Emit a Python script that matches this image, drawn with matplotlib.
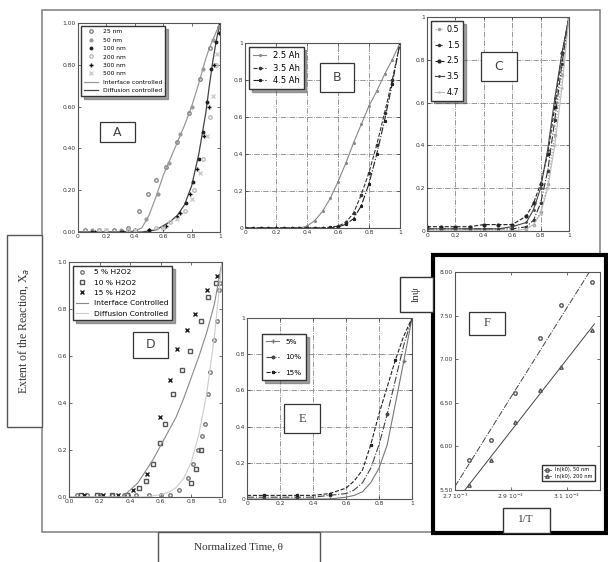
import numpy as np
import matplotlib
matplotlib.use("Agg")
import matplotlib.pyplot as plt
from matplotlib.patches import Rectangle

W, H = 608, 562

# ---- panel A : particle size ----
A_line_x = [0, 0.1, 0.2, 0.3, 0.4, 0.45, 0.5, 0.55, 0.6, 0.65, 0.7, 0.75, 0.8, 0.85, 0.9, 0.925, 0.95, 0.975, 1.0]
A_interface = [0, 0, 0, 0, 0.005, 0.02, 0.08, 0.17, 0.27, 0.35, 0.43, 0.51, 0.60, 0.71, 0.83, 0.88, 0.92, 0.96, 1.0]
A_diffusion = [0, 0, 0, 0, 0, 0, 0.005, 0.01, 0.03, 0.05, 0.08, 0.13, 0.22, 0.37, 0.57, 0.70, 0.82, 0.92, 1.0]
A_series = {
    "25 nm": ([0.05, 0.15, 0.25, 0.35, 0.43, 0.49, 0.55, 0.62, 0.7, 0.78, 0.86, 0.93, 0.99],
              [0.01, 0.01, 0.01, 0.02, 0.10, 0.18, 0.25, 0.31, 0.43, 0.57, 0.73, 0.88, 0.98]),
    "50 nm": ([0.1, 0.2, 0.3, 0.4, 0.48, 0.56, 0.64, 0.72, 0.8, 0.88, 0.95, 1.0],
              [0.01, 0.01, 0.01, 0.01, 0.06, 0.18, 0.33, 0.47, 0.60, 0.78, 0.92, 0.99]),
    "100 nm": ([0.1, 0.2, 0.3, 0.4, 0.5, 0.6, 0.7, 0.76, 0.81, 0.85, 0.88, 0.91, 0.94, 0.97, 1.0],
               [0, 0, 0, 0.01, 0.01, 0.02, 0.07, 0.14, 0.24, 0.35, 0.48, 0.62, 0.78, 0.91, 1.0]),
    "200 nm": ([0.15, 0.35, 0.55, 0.65, 0.75, 0.82, 0.88, 0.93, 0.97],
               [0.01, 0.01, 0.02, 0.05, 0.10, 0.20, 0.35, 0.55, 0.80]),
    "300 nm": ([0.12, 0.32, 0.5, 0.62, 0.72, 0.79, 0.84, 0.89, 0.92, 0.96, 0.99],
               [0, 0, 0.01, 0.03, 0.09, 0.18, 0.30, 0.46, 0.60, 0.80, 0.95]),
    "500 nm": ([0.2, 0.4, 0.6, 0.7, 0.8, 0.86, 0.91, 0.95, 0.98],
               [0.01, 0.01, 0.02, 0.06, 0.16, 0.28, 0.46, 0.65, 0.85]),
}

# ---- panel B : Ah ----
B_x = [0, 0.05, 0.1, 0.15, 0.2, 0.25, 0.3, 0.35, 0.4, 0.45, 0.5, 0.55, 0.6, 0.65, 0.7, 0.75, 0.8, 0.85, 0.9, 0.95, 1.0]
B_25 = [0, 0, 0, 0, 0, 0, 0, 0, 0.01, 0.04, 0.09, 0.16, 0.25, 0.35, 0.46, 0.56, 0.66, 0.74, 0.83, 0.91, 1.0]
B_35 = [0, 0, 0, 0, 0, 0, 0, 0, 0, 0, 0, 0.005, 0.01, 0.03, 0.08, 0.18, 0.30, 0.45, 0.62, 0.80, 1.0]
B_45 = [0, 0, 0, 0, 0, 0, 0, 0, 0, 0, 0, 0, 0.005, 0.02, 0.05, 0.12, 0.24, 0.40, 0.58, 0.78, 1.0]

# ---- panel C ----
C_x = [0, 0.1, 0.2, 0.3, 0.4, 0.5, 0.6, 0.7, 0.75, 0.8, 0.85, 0.9, 0.95, 1.0]
C_series = {
    "0.5": [0, 0, 0, 0, 0, 0, 0, 0.01, 0.03, 0.09, 0.22, 0.45, 0.73, 1.0],
    "1.5": [0.01, 0.01, 0.01, 0.01, 0.01, 0.01, 0.01, 0.02, 0.05, 0.13, 0.28, 0.52, 0.78, 1.0],
    "2.5": [0.02, 0.02, 0.02, 0.02, 0.03, 0.03, 0.03, 0.07, 0.13, 0.22, 0.36, 0.58, 0.83, 1.0],
    "3.5": [0.01, 0.01, 0.01, 0.01, 0.01, 0.01, 0.02, 0.04, 0.10, 0.20, 0.38, 0.62, 0.83, 1.0],
    "4.7": [0, 0, 0, 0, 0, 0, 0, 0.01, 0.03, 0.08, 0.20, 0.40, 0.67, 1.0],
}

# ---- panel D : H2O2 ----
D_line_x = [0, 0.1, 0.2, 0.3, 0.35, 0.4, 0.45, 0.5, 0.55, 0.6, 0.65, 0.7, 0.75, 0.8, 0.85, 0.9, 0.95, 1.0]
D_interface = [0, 0, 0, 0, 0, 0.03, 0.06, 0.11, 0.16, 0.22, 0.28, 0.34, 0.42, 0.51, 0.60, 0.70, 0.82, 1.0]
D_diffusion = [0, 0, 0, 0, 0, 0, 0, 0, 0.005, 0.01, 0.02, 0.04, 0.08, 0.15, 0.27, 0.44, 0.68, 1.0]
D_5_x = [0.05, 0.12, 0.2, 0.28, 0.36, 0.44, 0.52, 0.6, 0.66, 0.72, 0.78, 0.81, 0.84, 0.87, 0.89, 0.91, 0.92, 0.945, 0.97, 0.98, 0.99]
D_5_y = [0.01, 0.01, 0.01, 0.01, 0.01, 0.01, 0.01, 0.01, 0.01, 0.03, 0.08, 0.14, 0.20, 0.26, 0.31, 0.44, 0.53, 0.67, 0.75, 0.88, 0.91]
D_10_x = [0.08, 0.18, 0.28, 0.38, 0.46, 0.5, 0.55, 0.595, 0.63, 0.68, 0.74, 0.79, 0.86, 0.91, 0.96, 0.8, 0.83, 0.86]
D_10_y = [0.01, 0.01, 0.01, 0.01, 0.04, 0.07, 0.14, 0.23, 0.31, 0.44, 0.54, 0.62, 0.75, 0.85, 0.91, 0.06, 0.12, 0.20]
D_15_x = [0.1, 0.22, 0.32, 0.42, 0.51, 0.595, 0.66, 0.705, 0.77, 0.825, 0.9, 0.97]
D_15_y = [0.01, 0.01, 0.01, 0.03, 0.10, 0.34, 0.50, 0.63, 0.71, 0.78, 0.88, 0.94]

# ---- panel E ----
E_x = [0, 0.1, 0.2, 0.3, 0.4, 0.5, 0.6, 0.65, 0.7, 0.75, 0.8, 0.85, 0.9, 0.95, 1.0]
E_5 = [0, 0, 0, 0, 0, 0, 0.01, 0.02, 0.04, 0.09, 0.17, 0.30, 0.53, 0.76, 1.0]
E_10 = [0.01, 0.01, 0.01, 0.01, 0.01, 0.02, 0.03, 0.05, 0.09, 0.17, 0.30, 0.47, 0.66, 0.85, 1.0]
E_15 = [0.02, 0.02, 0.02, 0.02, 0.02, 0.03, 0.06, 0.10, 0.16, 0.30, 0.47, 0.62, 0.77, 0.90, 1.0]

# ---- panel F : Arrhenius ----
F_x = [2.752, 2.829, 2.916, 3.006, 3.079, 3.19]
F_50 = [5.84, 6.07, 6.61, 7.24, 7.62, 7.89]
F_200 = [5.56, 5.84, 6.28, 6.65, 6.91, 7.33]

TICK = 4.3


def rect(l, t, r, b):
    return [l / W, 1 - b / H, (r - l) / W, (b - t) / H]


def style(ax, grid=False):
    ax.tick_params(labelsize=TICK, length=2, width=0.5, direction="in", pad=1.5,
                   colors="#333333", top=True, right=True)
    for s in ax.spines.values():
        s.set_linewidth(0.8)
        s.set_color("#555555")
    if grid:
        ax.grid(True, color="#888888", linestyle="-.", linewidth=0.6)


fig = plt.figure(figsize=(W / 100, H / 100), dpi=100)

# background frame
bg = fig.add_axes([0, 0, 1, 1], zorder=0)
bg.set_xlim(0, W)
bg.set_ylim(H, 0)
bg.axis("off")
bg.add_patch(Rectangle((42, 10), 558, 522, fill=False, edgecolor="#888888", lw=1.2))
bg.add_patch(Rectangle((7, 235), 35, 192, facecolor="white", edgecolor="#555555", lw=1))
bg.text(24, 331, "Extent of the Reaction, X$_a$", rotation=90, ha="center", va="center",
        fontsize=8.5, family="Liberation Serif", color="#333333")
bg.add_patch(Rectangle((158, 532), 162, 32, facecolor="white", edgecolor="#555555", lw=1))
bg.text(239, 547, "Normalized Time, θ", ha="center", va="center",
        fontsize=8, family="Liberation Serif", color="#333333")
bg.add_patch(Rectangle((433, 255), 173, 278, facecolor="white", edgecolor="black", lw=3))
bg.add_patch(Rectangle((400, 277), 33, 35, facecolor="white", edgecolor="#333333", lw=1))
bg.text(416, 294, "lnψ", rotation=90, ha="center", va="center",
        fontsize=8, family="Liberation Serif", color="#333333")
bg.add_patch(Rectangle((503, 508), 47, 25, facecolor="white", edgecolor="#333333", lw=1))
bg.text(526, 520, "1/T", ha="center", va="center",
        fontsize=8, family="Liberation Serif", color="#333333")

ticks = [0, 0.2, 0.4, 0.6, 0.8, 1.0]
lab_short = ["0", "0.2", "0.4", "0.6", "0.8", "1"]

# A
axA = fig.add_axes(rect(78, 23, 220, 232), zorder=2)
axA.plot(A_line_x, A_interface, color="#999999", lw=0.9, label="Interface controlled")
axA.plot(A_line_x, A_diffusion, color="#444444", lw=0.9, label="Diffusion controlled")
mstyle = {"25 nm": dict(marker="o", mfc="none", mec="#888888", ms=2.5),
          "50 nm": dict(marker="o", mfc="#999999", mec="#999999", ms=2),
          "100 nm": dict(marker="o", mfc="#222222", mec="#222222", ms=1.8),
          "200 nm": dict(marker="o", mfc="none", mec="#bbbbbb", ms=2.5),
          "300 nm": dict(marker="+", mec="#111111", ms=3),
          "500 nm": dict(marker="x", mec="#cccccc", ms=2.5)}
for name, (xs, ys) in A_series.items():
    axA.plot(xs, ys, linestyle="none", label=name, **mstyle[name])
lh = axA.get_legend_handles_labels()
hl = dict(zip(lh[1], lh[0]))
order = list(A_series.keys()) + ["Interface controlled", "Diffusion controlled"]
axA.legend([hl[k] for k in order], order, loc="upper left", bbox_to_anchor=(0.0, 1.0),
           fontsize=4.3, frameon=True, fancybox=False, edgecolor="#333333", framealpha=1,
           labelspacing=0.55, handlelength=2.4, borderpad=0.5, shadow=True)
axA.set_xlim(0, 1)
axA.set_ylim(0, 1)
axA.set_xticks(ticks, lab_short)
axA.set_yticks(ticks, ["0.00", "0.20", "0.40", "0.60", "0.80", "1.00"])
style(axA)

# B
axB = fig.add_axes(rect(245, 43, 400, 228), zorder=2)
axB.plot(B_x, B_25, color="#888888", lw=0.8, marker="o", ms=1.2, label="2.5 Ah")
axB.plot(B_x, B_35, color="#333333", lw=0.8, ls="--", marker="o", ms=1.6, label="3.5 Ah")
axB.plot(B_x, B_45, color="#222222", lw=0.8, ls="-.", marker="*", ms=2, label="4.5 Ah")
axB.legend(loc="upper left", bbox_to_anchor=(0.0, 1.0), fontsize=6, fancybox=False,
           edgecolor="#333333", framealpha=1, handlelength=1.6, labelspacing=0.45,
           borderpad=0.45, shadow=True)
axB.set_xlim(0, 1)
axB.set_ylim(0, 1)
axB.set_xticks(ticks, lab_short)
axB.set_yticks(ticks, lab_short)
style(axB, grid=True)

# C
axC = fig.add_axes(rect(427, 17, 569, 231), zorder=2)
cst = {"0.5": dict(color="#999999", ls=":", marker="o", ms=1.5),
       "1.5": dict(color="#333333", ls="-.", marker="o", ms=1.5),
       "2.5": dict(color="#222222", ls="--", marker="o", ms=2),
       "3.5": dict(color="#444444", ls="-", marker=".", ms=2),
       "4.7": dict(color="#bbbbbb", ls="-", marker=".", ms=1.5)}
for name, ys in C_series.items():
    axC.plot(C_x, ys, lw=0.8, label=name, **cst[name])
axC.legend(loc="upper left", bbox_to_anchor=(0.0, 1.0), fontsize=5.8, fancybox=False,
           edgecolor="#333333", framealpha=1, handlelength=1.2, labelspacing=0.85,
           borderpad=0.45, handletextpad=0.3, shadow=True)
axC.set_xlim(0, 1)
axC.set_ylim(0, 1)
axC.set_xticks(ticks, lab_short)
axC.set_yticks(ticks, lab_short)
style(axC, grid=True)

# D
axD = fig.add_axes(rect(69, 262, 222, 497), zorder=2)
axD.plot(D_5_x, D_5_y, linestyle="none", marker="o", mfc="none", mec="#777777", ms=2.5, label="5 % H2O2")
axD.plot(D_10_x, D_10_y, linestyle="none", marker="s", mfc="none", mec="#555555", ms=2.3, label="10 % H2O2")
axD.plot(D_15_x, D_15_y, linestyle="none", marker="x", mec="#222222", ms=2.5, label="15 % H2O2")
axD.plot(D_line_x, D_interface, color="#888888", lw=0.8, label="Interface Controlled")
axD.plot(D_line_x, D_diffusion, color="#cccccc", lw=0.8, label="Diffusion Controlled")
axD.legend(loc="upper left", bbox_to_anchor=(0.0, 1.0), fontsize=5.4, fancybox=False,
           edgecolor="#333333", framealpha=1, handlelength=1.6, labelspacing=0.55,
           borderpad=0.45, shadow=True)
axD.set_xlim(0, 1)
axD.set_ylim(0, 1)
axD.set_xticks(ticks, ["0.0", "0.2", "0.4", "0.6", "0.8", "1.0"])
axD.set_yticks(ticks, ["0.0", "0.2", "0.4", "0.6", "0.8", "1.0"])
style(axD)

# E
axE = fig.add_axes(rect(247, 318, 412, 499), zorder=2)
axE.plot(E_x, E_5, color="#777777", lw=0.8, marker="+", ms=2.5, markevery=[1, 3, 5, 13], label="5%")
axE.plot(E_x, E_10, color="#444444", lw=0.8, ls="-.", marker="o", ms=1.8, markevery=[1, 3, 5, 11], label="10%")
axE.plot(E_x, E_15, color="#222222", lw=0.8, ls="--", marker="*", ms=2.2, markevery=[1, 3, 5, 9, 12], label="15%")
axE.legend(loc="upper left", bbox_to_anchor=(0.07, 0.93), fontsize=5.2, fancybox=False,
           edgecolor="#333333", framealpha=1, handlelength=1.8, labelspacing=1.3, borderpad=0.6,
           shadow=True)
axE.set_xlim(0, 1)
axE.set_ylim(0, 1)
axE.set_xticks(ticks, lab_short)
axE.set_yticks(ticks, lab_short)
style(axE, grid=True)

# F
axF = fig.add_axes(rect(455, 272, 600, 490), zorder=2)
xx = np.array([2.7, 3.2])
p1 = np.polyfit(F_x, F_50, 1)
p2 = np.polyfit(F_x, F_200, 1)
axF.plot(xx, np.polyval(p1, xx), color="#444444", lw=0.7, ls="-.")
axF.plot(xx, np.polyval(p2, xx), color="#444444", lw=0.7)
axF.plot(F_x, F_50, color="#555555", linestyle="none", marker="o", mfc="none", mec="#555555",
         ms=2.5, label="ln(k0), 50 nm")
axF.plot(F_x, F_200, color="#555555", linestyle="none", marker="^", mfc="none", mec="#555555",
         ms=2.5, label="ln(k0), 200 nm")
leg = axF.legend(loc="lower right", bbox_to_anchor=(0.98, 0.03), fontsize=3.6, fancybox=False,
                 edgecolor="#333333", framealpha=1, handlelength=1.5, labelspacing=0.3,
                 borderpad=0.4)
for h in leg.legend_handles:
    h.set_linestyle("-")
    h.set_linewidth(0.6)
axF.set_xlim(2.7, 3.22)
axF.set_ylim(5.5, 8.0)
axF.set_xticks([2.7, 2.9, 3.1], ["2.7 10$^{-3}$", "2.9 10$^{-3}$", "3.1 10$^{-3}$"])
axF.set_yticks([5.5, 6.0, 6.5, 7.0, 7.5, 8.0], ["5.50", "6.00", "6.50", "7.00", "7.50", "8.00"])
style(axF)

# panel letter boxes
top = fig.add_axes([0, 0, 1, 1], zorder=5)
top.set_xlim(0, W)
top.set_ylim(H, 0)
top.axis("off")
top.patch.set_alpha(0)
boxes = [("A", 100, 122, 135, 142, "DejaVu Sans"),
         ("B", 320, 63, 354, 92, "DejaVu Sans"),
         ("C", 481, 52, 517, 81, "DejaVu Sans"),
         ("D", 133, 332, 168, 358, "DejaVu Sans"),
         ("E", 284, 404, 320, 433, "Liberation Serif"),
         ("F", 469, 312, 505, 335, "Liberation Serif")]
for letter, l, t, r, b, fam in boxes:
    top.add_patch(Rectangle((l, t), r - l, b - t, facecolor="white", edgecolor="#333333", lw=0.9))
    top.text((l + r) / 2, (t + b) / 2, letter, ha="center", va="center", fontsize=9,
             family=fam, color="#444444")

fig.savefig("out.png", dpi=100)
